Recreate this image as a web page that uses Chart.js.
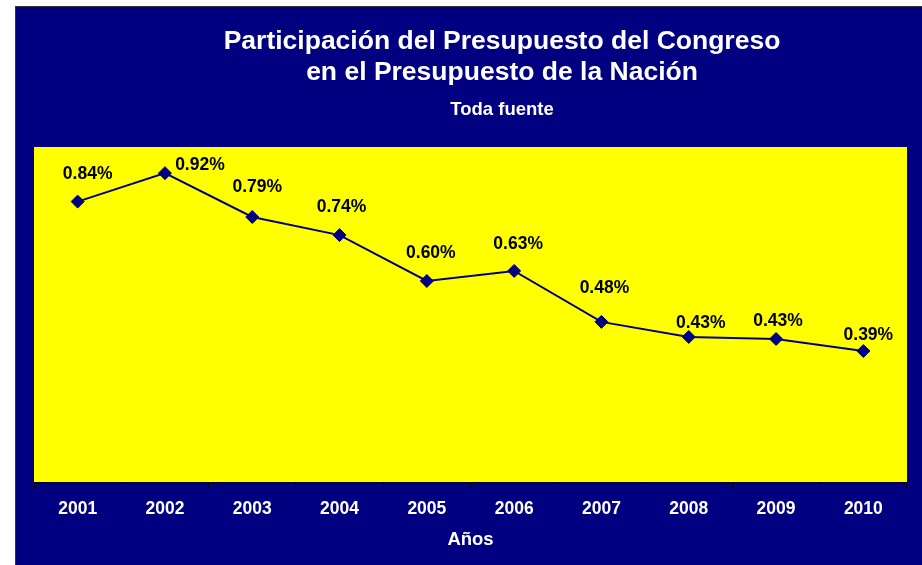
<!DOCTYPE html>
<html lang="es">
<head>
    <meta charset="UTF-8">
    <title>Participación del Presupuesto del Congreso</title>
    <script src="https://cdn.jsdelivr.net/npm/chart.js"></script>
    <style>
        body { margin: 0; background: #fff; }
        canvas { display: block; }
    </style>
</head>
<body>
    <canvas id="myChart" width="922" height="565"></canvas>
    <script>
        // Datos
        const anios = ['2001', '2002', '2003', '2004', '2005', '2006', '2007', '2008', '2009', '2010'];
        const participacion = [0.837, 0.922, 0.791, 0.737, 0.600, 0.630, 0.478, 0.433, 0.427, 0.391];
        // desplazamiento de cada etiqueta respecto a su punto
        const etiquetaDx = [10, 35, 5, 2, 4, 4, 3, 12, 2, 5];
        const etiquetaDy = [-27, -8, -30, -28, -28, -27, -34, -14, -18, -16];

        const titulo1 = 'Participación del Presupuesto del Congreso';
        const titulo2 = 'en el Presupuesto de la Nación';
        const subtitulo = 'Toda fuente';

        const fuente = '"Liberation Sans", Arial, sans-serif';
        const azul = '#000080';

        // Fondo azul, área amarilla y títulos
        const fondo = {
            id: 'fondo',
            beforeDraw(chart) {
                const ctx = chart.ctx;
                const a = chart.chartArea;
                ctx.save();
                ctx.fillStyle = '#fff';
                ctx.fillRect(0, 0, chart.width, chart.height);
                ctx.fillStyle = '#333';
                ctx.fillRect(15, 6, chart.width - 15, chart.height - 6);
                ctx.fillStyle = azul;
                ctx.fillRect(16, 7, chart.width - 16, chart.height - 7);
                ctx.fillStyle = '#ffff00';
                ctx.fillRect(a.left, a.top, a.right - a.left, a.bottom - a.top);

                ctx.fillStyle = '#fff';
                ctx.textAlign = 'center';
                ctx.textBaseline = 'middle';
                ctx.font = 'bold 26.5px ' + fuente;
                ctx.fillText(titulo1, 502, 42);
                ctx.fillText(titulo2, 502, 73);
                ctx.font = 'bold 18.5px ' + fuente;
                ctx.fillText(subtitulo, 502, 110);
                ctx.restore();
            }
        };

        // Etiquetas con el porcentaje sobre cada punto
        const etiquetas = {
            id: 'etiquetas',
            afterDatasetsDraw(chart) {
                const ctx = chart.ctx;
                const meta = chart.getDatasetMeta(0);
                ctx.save();
                ctx.fillStyle = '#000';
                ctx.textAlign = 'center';
                ctx.textBaseline = 'middle';
                ctx.font = 'bold 17.5px ' + fuente;
                meta.data.forEach((p, i) => {
                    const txt = participacion[i].toFixed(2) + '%';
                    ctx.fillText(txt, p.x + etiquetaDx[i], p.y + etiquetaDy[i]);
                });
                ctx.restore();
            }
        };

        new Chart(document.getElementById('myChart'), {
            type: 'line',
            data: {
                labels: anios,
                datasets: [{
                    data: participacion,
                    borderColor: azul,
                    borderWidth: 2,
                    backgroundColor: azul,
                    pointStyle: 'rectRot',
                    pointRadius: 6.5,
                    pointBorderWidth: 1,
                    tension: 0
                }]
            },
            options: {
                responsive: false,
                animation: false,
                layout: { padding: { left: 34, right: 15, top: 147, bottom: 0 } },
                plugins: {
                    legend: { display: false },
                    tooltip: { enabled: false }
                },
                scales: {
                    x: {
                        offset: true,
                        afterFit(scale) { scale.height = 83; },
                        grid: {
                            offset: true,
                            drawOnChartArea: false,
                            drawTicks: true,
                            tickLength: 6,
                            color: '#000'
                        },
                        border: { color: '#000', width: 1 },
                        ticks: {
                            color: '#fff',
                            padding: 11,
                            maxRotation: 0,
                            font: { family: fuente, size: 17.5, weight: 'bold' }
                        },
                        title: {
                            display: true,
                            text: 'Años',
                            color: '#fff',
                            padding: { top: 0, bottom: 14 },
                            font: { family: fuente, size: 18.5, weight: 'bold' }
                        }
                    },
                    y: {
                        display: false,
                        min: 0,
                        max: 1
                    }
                }
            },
            plugins: [fondo, etiquetas]
        });
    </script>
</body>
</html>
